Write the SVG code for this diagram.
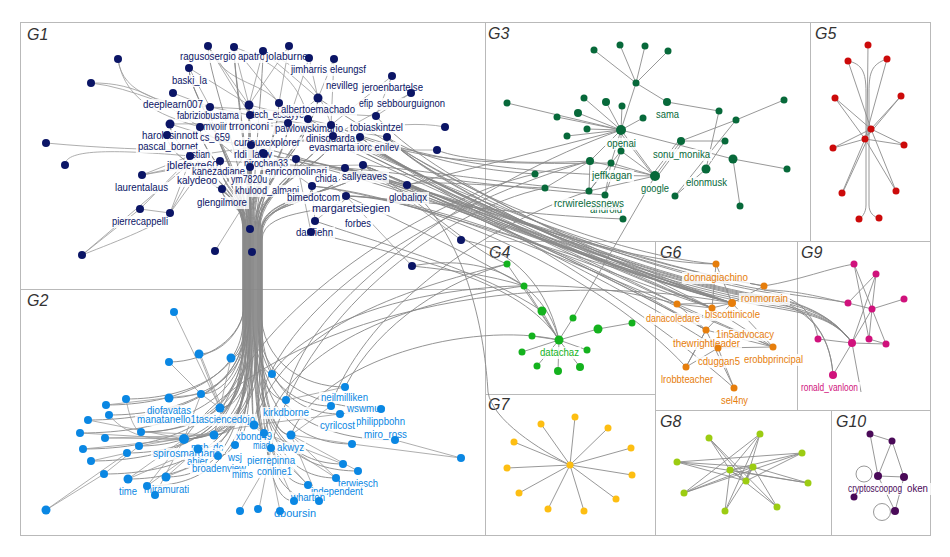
<svg xmlns="http://www.w3.org/2000/svg" width="950" height="557" viewBox="0 0 950 557">
<style>
.pn{fill:none;stroke:#b9b9b9;stroke-width:1}
.tt{font-family:"Liberation Sans",Arial,sans-serif;font-style:italic;font-size:16px;fill:#333}
.e{fill:none;stroke:#8c8c8c;stroke-width:.9}
.eb{fill:none;stroke:#888;stroke-width:.9}
.el{fill:none;stroke:#999;stroke-width:.8}
.l rect{fill:#fff;fill-opacity:.82}
.l text{font-family:"Liberation Sans",Arial,sans-serif;font-size:10px}
.q1 text{fill:#0b1566}.q2 text{fill:#0a87e3}.q3 text{fill:#07693a}.q4 text{fill:#14b21e}.q6 text{fill:#e67e0c}.q9 text{fill:#d0127c}.q10 text{fill:#4a0a58}
.k1{fill:#0b1566}.k2{fill:#0a87e3}.k3{fill:#07693a}.k4{fill:#14b21e}.k5{fill:#cc0a0a}.k6{fill:#e67e0c}.k7{fill:#fdbe12}.k8{fill:#9ccc12}.k9{fill:#d0127c}.k10{fill:#4a0a58}
</style>
<rect width="950" height="557" fill="#fff"/>
<g id="panels">
<rect class="pn" x="20.5" y="22.5" width="465" height="267"/>
<rect class="pn" x="485.5" y="22.5" width="325" height="219"/>
<rect class="pn" x="810.5" y="22.5" width="120" height="219"/>
<rect class="pn" x="20.5" y="289.5" width="465" height="246"/>
<rect class="pn" x="485.5" y="241.5" width="170" height="153"/>
<rect class="pn" x="655.5" y="241.5" width="142" height="169"/>
<rect class="pn" x="797.5" y="241.5" width="133" height="169"/>
<rect class="pn" x="485.5" y="394.5" width="170" height="141"/>
<rect class="pn" x="655.5" y="410.5" width="176" height="125"/>
<rect class="pn" x="831.5" y="410.5" width="99" height="125"/>
<text class="tt" x="27" y="40">G1</text>
<text class="tt" x="488" y="39">G3</text>
<text class="tt" x="815" y="39">G5</text>
<text class="tt" x="27" y="306">G2</text>
<text class="tt" x="489" y="258">G4</text>
<text class="tt" x="660" y="258">G6</text>
<text class="tt" x="801" y="258">G9</text>
<text class="tt" x="488" y="410">G7</text>
<text class="tt" x="660" y="427">G8</text>
<text class="tt" x="836" y="427">G10</text>
</g>
<g id="connectors">
<g id="e-g1-local" class="el">
<path d="M118,59 C122,95 165,105 210,107"/><path d="M118,59 C125,105 170,118 200,127"/><path d="M91,83 C140,82 165,105 200,127"/><path d="M91,83 C135,88 170,110 210,115"/>
<path d="M46,143 C100,148 150,150 200,150"/><path d="M65,165 C65,148 120,150 190,156"/><path d="M142,175 L190,156"/><path d="M142,175 L200,165"/><path d="M142,175 L210,160"/>
<path d="M140,209 L170,213"/><path d="M140,209 L188,160"/><path d="M170,213 L190,160"/><path d="M170,213 L198,162"/><path d="M170,213 L205,165"/>
<path d="M82,255 L140,209"/><path d="M82,255 C120,240 160,225 170,213"/><path d="M82,255 L188,165"/><path d="M215,251 L247,200"/>
<path d="M208,46 L249,105"/><path d="M208,46 L250,115"/><path d="M234,47 L249,105"/><path d="M234,47 L279,103"/><path d="M263,51 L249,105"/><path d="M263,51 L318,98"/>
<path d="M289,46 L279,103"/><path d="M289,46 L249,105"/><path d="M309,58 L318,98"/><path d="M309,58 L288,123"/><path d="M334,59 L318,98"/><path d="M334,59 L331,125"/>
<path d="M189,68 L210,107"/><path d="M189,68 L249,105"/><path d="M173,93 L210,107"/><path d="M208,46 C225,85 260,80 279,103"/><path d="M263,51 C300,65 320,90 331,125"/><path d="M234,47 C270,60 300,80 308,119"/>
<path d="M392,76 L376,116"/><path d="M392,76 L331,125"/><path d="M411,93 L376,116"/><path d="M411,93 L333,136"/><path d="M445,127 C420,122 390,125 360,130"/><path d="M437,150 L390,150"/>
<path d="M200,127 L331,125"/><path d="M170,124 L288,123"/><path d="M210,107 L376,116"/><path d="M250,115 L387,137"/><path d="M251,145 L360,137"/><path d="M220,161 L345,168"/>
<path d="M190,156 L333,136"/><path d="M250,167 L363,165"/><path d="M264,154 L407,185"/><path d="M296,159 L346,196"/><path d="M252,144 L312,186"/><path d="M200,127 L250,167"/>
<path d="M167,135 L251,145"/><path d="M170,124 L263,153"/><path d="M222,189 L251,145"/><path d="M412,266 L346,196"/><path d="M461,240 L363,165"/><path d="M315,221 L312,186"/>
<path d="M311,232 L296,159"/><path d="M315,221 L346,196"/><path d="M249,105 L331,125"/><path d="M279,103 L333,136"/><path d="M318,98 L288,123"/><path d="M210,107 L288,123"/>
</g>
<g id="e-g1-g2" class="eb">
<path d="M210,107 C210,137 244,180 244,230 L244,320 C244,414 214,439 184,439"/>
<path d="M249,105 C249,135 248,180 248,230 L248,320 C248,383 234,408 220,408"/>
<path d="M250,115 C250,145 252,180 252,230 L252,320 C252,400 253,425 254,425"/>
<path d="M279,103 C279,133 256,180 256,230 L256,320 C256,408 260,433 264,433"/>
<path d="M288,123 C288,153 260,180 260,230 L260,320 C260,410 276,435 291,435"/>
<path d="M251,145 C251,175 246,180 246,230 L246,325 C246,407 194,432 141,432"/>
<path d="M264,154 C264,184 250,190 250,230 L250,330 C250,410 232,435 214,435"/>
<path d="M220,161 C220,191 243,190 243,230 L243,330 C243,395 166,420 88,420"/>
<path d="M190,156 C190,186 245,185 245,230 L245,335 C245,408 162,433 80,433"/>
<path d="M250,167 C250,197 249,200 249,230 L249,330 C249,424 224,449 198,449"/>
<path d="M222,189 C222,205 247,205 247,235 L247,330 C247,421 193,446 139,446"/>
<path d="M296,159 C296,189 258,190 258,230 L258,320 C258,381 295,406 331,406"/>
<path d="M312,186 C312,210 261,200 261,235 L261,315 C261,389 300,414 340,414"/>
<path d="M200,127 C200,157 244,180 244,230 L244,340 C244,428 186,453 127,453"/>
<path d="M170,124 C170,154 243,180 243,230 L243,320 C243,380 175,405 106,405"/>
<path d="M331,125 C331,155 259,180 259,230 L259,330 C259,419 306,444 352,444"/>
<path d="M318,98 C318,128 257,180 257,230 L257,340 C257,439 300,464 343,464"/>
<path d="M263,153 C263,183 251,190 251,230 L251,340 C251,420 243,445 235,445"/>
<path d="M308,119 C308,149 255,180 255,230 L255,345 C255,446 307,471 358,471"/>
<path d="M333,136 C333,166 260,180 260,230 L260,350 C260,453 298,478 336,478"/>
<path d="M345,168 C345,198 262,195 262,235 L262,350 C262,460 285,485 308,485"/>
<path d="M252,144 C252,174 250,190 250,230 L250,340 C250,431 234,456 218,456"/>
<path d="M189,68 C189,98 246,170 246,230 L246,320 C246,390 178,415 109,415"/>
<path d="M208,46 C208,76 247,170 247,230 L247,315 C247,374 187,399 126,399"/>
<path d="M234,47 C234,77 249,170 249,230 L249,320 C249,373 209,398 169,398"/>
<path d="M263,51 C263,81 253,170 253,230 L253,320 C253,375 270,400 286,400"/>
<path d="M167,135 C167,165 243,180 243,230 L243,340 C243,424 163,449 83,449"/>
<path d="M363,165 C363,195 262,190 262,230 L262,360 C262,476 278,501 294,501"/>
<path d="M210,107 C210,137 245,180 245,230 L245,345 C245,436 168,461 91,461"/>
<path d="M249,105 C249,135 250,180 250,230 L250,350 C250,449 177,474 104,474"/>
<path d="M279,103 C279,133 254,180 254,230 L254,340 C254,423 263,448 271,448"/>
<path d="M288,123 C288,153 257,180 257,230 L257,355 C257,476 288,501 319,501"/>
<path d="M251,145 C251,175 248,190 248,230 L248,345 C248,454 188,479 128,479"/>
<path d="M264,154 C264,184 252,190 252,230 L252,350 C252,461 200,486 147,486"/>
<path d="M220,161 C220,191 246,190 246,230 L246,345 C246,452 206,477 166,477"/>
<path d="M190,156 C190,186 244,185 244,230 L244,305 C244,329 222,354 199,354"/>
<path d="M250,167 C250,197 251,200 251,230 L251,305 C251,333 241,358 231,358"/>
<path d="M222,189 C222,205 253,205 253,235 L253,320 C253,349 263,374 272,374"/>
<path d="M296,159 C296,189 259,190 259,230 L259,325 C259,384 320,409 381,409"/>
<path d="M312,186 C312,210 261,200 261,235 L261,310 C261,362 303,387 345,387"/>
<path d="M200,127 C200,157 245,180 245,230 L245,320 C245,369 223,394 201,394"/>
<path d="M170,124 C170,154 244,180 244,230 L244,305 C244,337 207,362 169,362"/>
<path d="M331,125 C331,155 258,180 258,230 L258,330 C258,415 327,440 395,440"/>
<path d="M318,98 C318,128 255,180 255,230 L255,335 C255,408 260,433 264,433"/>
<path d="M308,119 C308,149 254,180 254,230 L254,335 C254,414 219,439 184,439"/>
<path d="M263,153 C263,183 249,190 249,230 L249,340 C249,414 217,439 184,439"/>
<path d="M252,144 C252,174 247,190 247,230 L247,330 C247,383 234,408 220,408"/>
<path d="M189,68 C189,98 248,170 248,230 L248,335 C248,410 231,435 214,435"/>
<path d="M234,47 C234,77 251,170 251,230 L251,330 C251,400 253,425 254,425"/>
<path d="M346,196 C346,215 262,205 262,240 L262,330 C262,410 277,435 291,435"/>
<path d="M363,165 C363,195 261,190 261,230 L261,340 C261,414 223,439 184,439"/>
<path d="M345,168 C345,198 260,195 260,235 L260,340 C260,400 257,425 254,425"/>
<path d="M296,159 C296,189 256,190 256,230 L256,340 C256,410 235,435 214,435"/>
<path d="M333,136 C333,166 258,180 258,230 L258,340 C258,414 221,439 184,439"/>
<path d="M250,115 C250,145 250,180 250,230 L250,335 C250,407 196,432 141,432"/>
<path d="M279,103 C279,133 253,180 253,230 L253,325 C253,383 237,408 220,408"/>
</g>
<g id="e-g1-right" class="eb">
<path d="M331,125 C430,185 600,262 732,303"/><path d="M333,136 C430,188 600,265 712,308"/><path d="M360,137 C430,191 600,268 677,304"/>
<path d="M387,137 C430,177 600,254 716,264"/><path d="M345,168 C430,193 600,270 706,330"/><path d="M363,165 C430,195 600,272 718,348"/>
<path d="M407,185 C430,189 600,266 732,303"/><path d="M346,196 C430,197 600,274 773,347"/><path d="M296,159 C430,181 600,258 764,286"/>
<path d="M312,186 C430,197 600,274 686,367"/><path d="M376,116 C430,179 600,256 732,303"/><path d="M318,98 C430,175 600,252 712,308"/>
<path d="M308,119 C430,183 600,260 732,303"/><path d="M288,123 C430,187 600,264 677,304"/><path d="M263,153 C430,191 600,268 732,303"/>
<path d="M251,145 C430,189 600,266 706,330"/><path d="M387,137 C430,183 600,260 712,308"/><path d="M360,137 C430,193 600,270 734,388"/>
<path d="M333,136 C430,180 600,257 764,286"/><path d="M345,168 C430,186 600,263 716,264"/>
<path d="M331,125 C430,186 600,263 712,308"/><path d="M345,168 C430,190 600,267 732,303"/><path d="M363,165 C430,192 600,269 732,303"/>
<path d="M407,185 C430,194 600,271 706,330"/><path d="M387,137 C430,185 600,262 732,303"/><path d="M346,196 C430,195 600,272 712,308"/>
<path d="M331,125 C430,190 640,276 770,297 C805,303 835,318 852,343"/>
<path d="M345,168 C430,196 640,282 770,303 C805,309 835,318 852,343"/>
<path d="M363,165 C430,194 640,280 770,301 C805,307 830,330 833,375"/>
<path d="M407,185 C430,198 640,284 770,305 C805,311 835,318 852,343"/>
<path d="M296,159 C430,184 640,270 770,291 C805,297 835,300 848,303"/>
<path d="M387,137 C430,186 640,272 770,293 C805,299 815,320 818,339"/>
<path d="M312,186 C430,200 640,286 770,307 C805,313 835,318 852,343"/>
<path d="M360,137 C430,192 640,278 770,299 C805,305 830,330 833,375"/>
<path d="M333,136 C430,191 640,277 770,298 C805,304 835,318 852,343"/>
<path d="M363,165 C430,193 640,279 770,300 C805,306 835,318 852,343"/>
<path d="M387,137 C420,160 480,170 535,174"/><path d="M407,185 C420,180 480,185 545,188"/><path d="M363,165 C420,170 480,180 589,191"/>
<path d="M345,168 C420,175 480,185 605,195"/><path d="M437,150 C460,160 520,165 590,161"/><path d="M360,137 C420,160 480,165 611,163"/>
<path d="M407,185 L621,130"/><path d="M346,196 C420,200 520,215 623,219"/><path d="M331,125 C420,160 520,175 655,176"/>
<path d="M412,266 C470,255 540,270 559,340"/><path d="M461,240 C500,245 545,275 559,340"/><path d="M363,165 C420,200 470,250 507,264"/>
<path d="M346,196 C420,230 480,260 524,286"/><path d="M315,221 C400,250 480,270 542,311"/><path d="M311,232 C420,260 520,280 559,340"/>
<path d="M412,266 C450,270 490,275 524,286"/>
<path d="M254,425 C280,330 400,290 507,264"/><path d="M264,433 C290,340 420,300 524,286"/><path d="M291,435 C320,360 470,320 559,340"/>
<path d="M214,435 C240,320 420,200 535,174"/><path d="M271,448 C300,320 440,210 545,188"/><path d="M331,406 C360,320 470,230 589,191"/>
<path d="M286,400 C300,300 480,180 621,130"/><path d="M272,374 C320,300 520,260 677,304"/><path d="M184,439 C260,330 500,260 732,303"/>
<path d="M345,387 C380,320 450,280 507,264"/><path d="M254,425 C270,300 450,200 590,161"/>
<path d="M407,185 C470,240 485,340 488,392 C492,420 540,450 570,465"/>
</g>
<g id="e-g2" class="el">
<path d="M174,312 L220,408"/><path d="M199,354 L220,408"/><path d="M201,356 L221,406"/><path d="M231,358 L220,408"/><path d="M169,362 L201,394"/><path d="M201,394 L220,408"/>
<path d="M201,394 L184,439"/><path d="M106,405 L201,394"/><path d="M126,399 C130,420 135,430 141,432"/><path d="M109,415 C130,440 160,440 184,439"/><path d="M88,420 L184,439"/>
<path d="M80,433 L184,439"/><path d="M83,449 L184,439"/><path d="M105,438 L184,439"/><path d="M105,438 L214,435"/><path d="M91,461 L127,453"/><path d="M104,474 L139,446"/>
<path d="M128,479 L184,439"/><path d="M147,486 L198,449"/><path d="M166,477 L198,449"/><path d="M166,477 L218,456"/><path d="M147,486 L184,439"/><path d="M155,495 L184,439"/>
<path d="M128,479 L198,449"/><path d="M240,511 L264,470"/><path d="M259,509 L271,448"/><path d="M280,511 L264,433"/><path d="M46,510 L104,474"/><path d="M46,510 L127,453"/>
<path d="M308,485 L271,448"/><path d="M294,501 L264,433"/><path d="M319,501 L291,435"/><path d="M336,478 L291,435"/><path d="M358,471 L291,435"/><path d="M343,464 L264,433"/>
<path d="M352,444 L291,435"/><path d="M461,458 L395,440"/><path d="M461,458 L352,444"/><path d="M381,409 L340,414"/><path d="M345,387 L286,400"/><path d="M331,406 L291,435"/>
<path d="M340,414 L254,425"/><path d="M308,485 L254,425"/><path d="M336,478 L254,425"/><path d="M141,432 L214,435"/><path d="M139,446 L254,425"/>
</g>
<g id="e-g3" class="e">
<path d="M636,83 L594,50"/><path d="M636,83 L620,45"/><path d="M636,83 L645,46"/><path d="M636,83 L668,51"/><path d="M636,83 L667,102"/><path d="M636,83 L621,130"/>
<path d="M667,102 L719,111"/><path d="M719,111 L706,169"/><path d="M621,130 L507,103"/><path d="M621,130 L557,117"/><path d="M621,130 L584,98"/><path d="M621,130 L606,102"/>
<path d="M621,130 L622,106"/><path d="M621,130 L578,113"/><path d="M621,130 L643,118"/><path d="M621,130 L587,129"/><path d="M621,130 L567,136"/><path d="M621,130 L621,151"/>
<path d="M621,130 L590,161"/><path d="M621,130 L611,163"/><path d="M621,130 L733,159"/><path d="M733,159 L787,169"/><path d="M681,141 L736,120"/><path d="M681,141 L725,141"/>
<path d="M736,120 L784,100"/><path d="M736,120 L675,196"/><path d="M725,141 L706,169"/><path d="M733,159 L740,206"/><path d="M706,169 L675,196"/>
<path d="M655,176 L621,151"/><path d="M655,176 L621,130"/><path d="M653,175 L619,131"/><path d="M655,176 L681,141"/><path d="M653,174 L679,140"/><path d="M657,177 L683,142"/>
<path d="M655,176 L590,161"/><path d="M655,176 L611,163"/><path d="M590,161 L535,174"/><path d="M590,161 L545,188"/><path d="M590,161 L589,191"/><path d="M611,163 L605,195"/>
<path d="M621,151 L589,191"/><path d="M621,151 L605,195"/><path d="M611,163 L589,191"/><path d="M623,219 L605,195"/><path d="M589,191 L655,176"/><path d="M655,176 L573,318"/>
</g>
<g id="e-g4" class="e">
<path d="M559,340 L507,264"/><path d="M559,340 L524,286"/><path d="M559,340 L542,311"/><path d="M559,340 L573,318"/><path d="M559,340 L598,329"/><path d="M559,340 L532,336"/>
<path d="M559,340 L522,352"/><path d="M559,340 L587,350"/><path d="M559,340 L537,366"/><path d="M559,340 L558,371"/><path d="M559,340 L580,367"/><path d="M598,329 L632,323"/>
</g>
<g id="e-g5" class="e">
<path d="M848,61 C862,64 866,72 866,92 L866,205 C866,213 862,217 859,219"/><path d="M887,59 C872,64 869,72 869,92 L869,205 C869,213 874,217 879,218"/>
<path d="M868,45 L867,135"/><path d="M848,61 L871,129"/><path d="M887,59 L865,139"/><path d="M835,98 L871,129"/><path d="M835,98 L865,139"/><path d="M901,96 L871,129"/>
<path d="M901,96 L865,139"/><path d="M833,148 L871,129"/><path d="M833,148 L865,139"/><path d="M904,145 L871,129"/><path d="M904,145 L865,139"/><path d="M842,193 L865,139"/>
<path d="M843,192 L867,140"/><path d="M896,191 L871,129"/><path d="M896,191 L865,139"/><path d="M871,129 L865,139"/>
</g>
<g id="e-g6" class="e">
<path d="M716,264 L712,308"/><path d="M716,264 L732,303"/><path d="M764,286 L732,303"/><path d="M677,304 L712,308"/><path d="M677,304 L732,303"/><path d="M677,304 L706,330"/>
<path d="M712,308 L732,303"/><path d="M706,330 L732,303"/><path d="M706,330 L686,367"/><path d="M706,330 L773,347"/><path d="M718,348 L773,347"/><path d="M718,348 L734,388"/>
<path d="M686,367 L718,348"/><path d="M734,388 L706,330"/><path d="M677,304 L773,347"/><path d="M712,308 L773,347"/><path d="M732,303 L773,347"/><path d="M686,367 L706,330"/>
</g>
<g id="e-g9" class="e">
<path d="M764,286 C800,280 830,268 854,264"/><path d="M764,290 C800,290 830,300 848,303"/>
<path d="M854,264 L872,309"/><path d="M854,264 L869,339"/><path d="M876,274 L848,303"/><path d="M876,274 L872,309"/><path d="M876,274 L852,343"/><path d="M848,303 L872,309"/>
<path d="M872,309 L904,299"/><path d="M872,309 L852,343"/><path d="M872,309 L869,339"/><path d="M872,309 L886,344"/><path d="M818,339 L852,343"/><path d="M852,343 L886,344"/>
<path d="M852,343 L833,375"/><path d="M852,343 L861,392"/><path d="M869,339 L886,344"/>
</g>
<g id="e-g7" class="e">
<path d="M570,465 L575,417"/><path d="M570,465 L541,424"/><path d="M570,465 L608,428"/><path d="M570,465 L514,442"/><path d="M570,465 L631,448"/><path d="M570,465 L507,468"/>
<path d="M570,465 L632,475"/><path d="M570,465 L519,493"/><path d="M570,465 L616,499"/><path d="M570,465 L548,509"/><path d="M570,465 L584,511"/>
</g>
<g id="e-g8" class="e">
<path d="M709,438 L730,470"/><path d="M709,438 L746,481"/><path d="M709,438 L777,507"/><path d="M760,434 L730,470"/><path d="M760,434 L746,481"/><path d="M760,434 L725,511"/>
<path d="M760,434 L684,493"/><path d="M677,462 L753,467"/><path d="M677,462 L746,481"/><path d="M677,462 L808,483"/><path d="M802,453 L730,470"/><path d="M802,453 L684,493"/>
<path d="M802,453 L746,481"/><path d="M802,453 L677,462"/><path d="M808,483 L730,470"/><path d="M808,483 L753,467"/><path d="M684,493 L753,467"/><path d="M684,493 L730,470"/>
<path d="M777,507 L730,470"/><path d="M777,507 L753,467"/><path d="M725,511 L730,470"/><path d="M725,511 L753,467"/><path d="M730,470 L753,467"/><path d="M730,470 L746,481"/><path d="M753,467 L746,481"/>
</g>
<g id="e-g10" class="e">
<path d="M870,434 L892,441"/><path d="M870,434 L878,476"/><path d="M892,441 L878,476"/><path d="M892,441 L904,477"/><path d="M878,476 L904,477"/><path d="M878,476 L895,511"/><path d="M904,477 L895,511"/>
<circle cx="864" cy="474" r="8"/><circle cx="882" cy="512" r="8.5"/>
</g>
</g>
<g id="labels">
<g class="l q1">
<g id="lbl-ragusosergio"><rect x="178" y="51" width="60" height="12"/><text x="180" y="60" textLength="56" lengthAdjust="spacingAndGlyphs">ragusosergio</text></g>
<g id="lbl-apatro"><rect x="236" y="51" width="31" height="12"/><text x="238" y="60" textLength="27" lengthAdjust="spacingAndGlyphs">apatro</text></g>
<g id="lbl-jolaburne"><rect x="264" y="51" width="46" height="12"/><text x="266" y="60" textLength="42" lengthAdjust="spacingAndGlyphs">jolaburne</text></g>
<g id="lbl-jimharris"><rect x="289" y="64" width="40" height="12"/><text x="291" y="73" textLength="36" lengthAdjust="spacingAndGlyphs">jimharris</text></g>
<g id="lbl-eleungsf"><rect x="328" y="64" width="40" height="12"/><text x="330" y="73" textLength="36" lengthAdjust="spacingAndGlyphs">eleungsf</text></g>
<g id="lbl-baski_la"><rect x="170" y="75" width="39" height="12"/><text x="172" y="84" textLength="35" lengthAdjust="spacingAndGlyphs">baski_la</text></g>
<g id="lbl-nevilleg"><rect x="324" y="80" width="36" height="12"/><text x="326" y="89" textLength="32" lengthAdjust="spacingAndGlyphs">nevilleg</text></g>
<g id="lbl-jeroenbartelse"><rect x="360" y="82" width="65" height="12"/><text x="362" y="91" textLength="61" lengthAdjust="spacingAndGlyphs">jeroenbartelse</text></g>
<g id="lbl-deeplearn007"><rect x="141" y="99" width="64" height="12"/><text x="143" y="108" textLength="60" lengthAdjust="spacingAndGlyphs">deeplearn007</text></g>
<g id="lbl-efip"><rect x="357" y="98" width="18" height="12"/><text x="359" y="107" textLength="14" lengthAdjust="spacingAndGlyphs">efip</text></g>
<g id="lbl-sebbourguignon"><rect x="375" y="98" width="72" height="12"/><text x="377" y="107" textLength="68" lengthAdjust="spacingAndGlyphs">sebbourguignon</text></g>
<g id="lbl-tech_essayye"><rect x="250" y="109" width="56" height="12"/><text x="252" y="118" textLength="52" lengthAdjust="spacingAndGlyphs">tech_essayye</text></g>
<g id="lbl-albertoemachado"><rect x="279" y="104" width="78" height="12"/><text x="281" y="113" textLength="74" lengthAdjust="spacingAndGlyphs">albertoemachado</text></g>
<g id="lbl-fabriziobustama"><rect x="175" y="110" width="66" height="12"/><text x="177" y="119" textLength="62" lengthAdjust="spacingAndGlyphs">fabriziobustama</text></g>
<g id="lbl-mvoiir"><rect x="201" y="121" width="28" height="12"/><text x="203" y="130" textLength="24" lengthAdjust="spacingAndGlyphs">mvoiir</text></g>
<g id="lbl-trronconi"><rect x="227" y="121" width="44" height="12"/><text x="229" y="130" textLength="40" lengthAdjust="spacingAndGlyphs">trronconi</text></g>
<g id="lbl-pawlowskimario"><rect x="273" y="123" width="72" height="12"/><text x="275" y="132" textLength="68" lengthAdjust="spacingAndGlyphs">pawlowskimario</text></g>
<g id="lbl-tobiaskintzel"><rect x="348" y="122" width="57" height="12"/><text x="350" y="131" textLength="53" lengthAdjust="spacingAndGlyphs">tobiaskintzel</text></g>
<g id="lbl-haroldsinnott"><rect x="140" y="130" width="60" height="12"/><text x="142" y="139" textLength="56" lengthAdjust="spacingAndGlyphs">haroldsinnott</text></g>
<g id="lbl-cs_659"><rect x="198" y="132" width="34" height="12"/><text x="200" y="141" textLength="30" lengthAdjust="spacingAndGlyphs">cs_659</text></g>
<g id="lbl-dinisguarda"><rect x="304" y="133" width="53" height="12"/><text x="306" y="142" textLength="49" lengthAdjust="spacingAndGlyphs">dinisguarda</text></g>
<g id="lbl-curieuxexplorer"><rect x="232" y="137" width="70" height="12"/><text x="234" y="146" textLength="66" lengthAdjust="spacingAndGlyphs">curieuxexplorer</text></g>
<g id="lbl-pascal_bornet"><rect x="136" y="141" width="64" height="12"/><text x="138" y="150" textLength="60" lengthAdjust="spacingAndGlyphs">pascal_bornet</text></g>
<g id="lbl-evasmartai"><rect x="307" y="142" width="52" height="12"/><text x="309" y="151" textLength="48" lengthAdjust="spacingAndGlyphs">evasmartai</text></g>
<g id="lbl-iorcenilev"><rect x="355" y="142" width="46" height="12"/><text x="357" y="151" textLength="42" lengthAdjust="spacingAndGlyphs">iorc enilev</text></g>
<g id="lbl-ystian"><rect x="185" y="149" width="27" height="12"/><text x="187" y="158" textLength="23" lengthAdjust="spacingAndGlyphs">ystian</text></g>
<g id="lbl-rldi_lanly"><rect x="232" y="149" width="42" height="12"/><text x="234" y="158" textLength="38" lengthAdjust="spacingAndGlyphs">rldi_lanly</text></g>
<g id="lbl-jblefevre60"><rect x="165" y="160" width="55" height="12"/><text x="167" y="169" textLength="51" lengthAdjust="spacingAndGlyphs">jblefevre60</text></g>
<g id="lbl-nirochan33"><rect x="242" y="158" width="48" height="12"/><text x="244" y="167" textLength="44" lengthAdjust="spacingAndGlyphs">nirochan33</text></g>
<g id="lbl-kanezadiane"><rect x="190" y="166" width="57" height="12"/><text x="192" y="175" textLength="53" lengthAdjust="spacingAndGlyphs">kanezadiane</text></g>
<g id="lbl-enricomolinari"><rect x="263" y="166" width="66" height="12"/><text x="265" y="175" textLength="62" lengthAdjust="spacingAndGlyphs">enricomolinari</text></g>
<g id="lbl-sallyeaves"><rect x="340" y="171" width="49" height="12"/><text x="342" y="180" textLength="45" lengthAdjust="spacingAndGlyphs">sallyeaves</text></g>
<g id="lbl-chida"><rect x="313" y="173" width="26" height="12"/><text x="315" y="182" textLength="22" lengthAdjust="spacingAndGlyphs">chida</text></g>
<g id="lbl-ym7820u"><rect x="229" y="174" width="40" height="12"/><text x="231" y="183" textLength="36" lengthAdjust="spacingAndGlyphs">ym7820u</text></g>
<g id="lbl-kalydeoo"><rect x="175" y="175" width="44" height="12"/><text x="177" y="184" textLength="40" lengthAdjust="spacingAndGlyphs">kalydeoo</text></g>
<g id="lbl-laurentalaus"><rect x="113" y="182" width="57" height="12"/><text x="115" y="191" textLength="53" lengthAdjust="spacingAndGlyphs">laurentalaus</text></g>
<g id="lbl-khulood_almani"><rect x="233" y="185" width="68" height="12"/><text x="235" y="194" textLength="64" lengthAdjust="spacingAndGlyphs">khulood_almani</text></g>
<g id="lbl-bimedotcom"><rect x="285" y="192" width="57" height="12"/><text x="287" y="201" textLength="53" lengthAdjust="spacingAndGlyphs">bimedotcom</text></g>
<g id="lbl-globaliqx"><rect x="387" y="192" width="42" height="12"/><text x="389" y="201" textLength="38" lengthAdjust="spacingAndGlyphs">globaliqx</text></g>
<g id="lbl-glengilmore"><rect x="195" y="197" width="54" height="12"/><text x="197" y="206" textLength="50" lengthAdjust="spacingAndGlyphs">glengilmore</text></g>
<g id="lbl-margaretsiegien"><rect x="310" y="203" width="82" height="12"/><text x="312" y="212" textLength="78" lengthAdjust="spacingAndGlyphs">margaretsiegien</text></g>
<g id="lbl-pierrecappelli"><rect x="110" y="216" width="60" height="12"/><text x="112" y="225" textLength="56" lengthAdjust="spacingAndGlyphs">pierrecappelli</text></g>
<g id="lbl-forbes"><rect x="343" y="218" width="30" height="12"/><text x="345" y="227" textLength="26" lengthAdjust="spacingAndGlyphs">forbes</text></g>
<g id="lbl-danfiehn"><rect x="294" y="227" width="41" height="12"/><text x="296" y="236" textLength="37" lengthAdjust="spacingAndGlyphs">danfiehn</text></g>
</g>
<g class="l q2">
<g id="lbl-diofavatas"><rect x="145" y="405" width="48" height="12"/><text x="147" y="414" textLength="44" lengthAdjust="spacingAndGlyphs">diofavatas</text></g>
<g id="lbl-tasciencedojo"><rect x="194" y="414" width="63" height="12"/><text x="196" y="423" textLength="59" lengthAdjust="spacingAndGlyphs">tasciencedojo</text></g>
<g id="lbl-manatanello1"><rect x="135" y="414" width="61" height="12"/><text x="137" y="423" textLength="59" lengthAdjust="spacingAndGlyphs">manatanello1</text></g>
<g id="lbl-kirkdborne"><rect x="261" y="407" width="50" height="12"/><text x="263" y="416" textLength="46" lengthAdjust="spacingAndGlyphs">kirkdborne</text></g>
<g id="lbl-neilmilliken"><rect x="319" y="392" width="51" height="12"/><text x="321" y="401" textLength="47" lengthAdjust="spacingAndGlyphs">neilmilliken</text></g>
<g id="lbl-wswmue"><rect x="345" y="403" width="42" height="12"/><text x="347" y="412" textLength="38" lengthAdjust="spacingAndGlyphs">wswmue</text></g>
<g id="lbl-philippbohn"><rect x="354" y="416" width="53" height="12"/><text x="356" y="425" textLength="49" lengthAdjust="spacingAndGlyphs">philippbohn</text></g>
<g id="lbl-cyrilcost"><rect x="318" y="420" width="39" height="12"/><text x="320" y="429" textLength="35" lengthAdjust="spacingAndGlyphs">cyrilcost</text></g>
<g id="lbl-miro_ross"><rect x="362" y="429" width="47" height="12"/><text x="364" y="438" textLength="43" lengthAdjust="spacingAndGlyphs">miro_ross</text></g>
<g id="lbl-xbond49"><rect x="234" y="431" width="40" height="12"/><text x="236" y="440" textLength="36" lengthAdjust="spacingAndGlyphs">xbond49</text></g>
<g id="lbl-miad"><rect x="251" y="440" width="21" height="12"/><text x="253" y="449" textLength="17" lengthAdjust="spacingAndGlyphs">miad</text></g>
<g id="lbl-akwyz"><rect x="275" y="442" width="31" height="12"/><text x="277" y="451" textLength="27" lengthAdjust="spacingAndGlyphs">akwyz</text></g>
<g id="lbl-msb_dc"><rect x="189" y="442" width="36" height="12"/><text x="191" y="451" textLength="32" lengthAdjust="spacingAndGlyphs">msb_dc</text></g>
<g id="lbl-spirosmargaris"><rect x="151" y="448" width="71" height="12"/><text x="153" y="457" textLength="67" lengthAdjust="spacingAndGlyphs">spirosmargaris</text></g>
<g id="lbl-wsj"><rect x="226" y="452" width="18" height="12"/><text x="228" y="461" textLength="14" lengthAdjust="spacingAndGlyphs">wsj</text></g>
<g id="lbl-pierrepinna"><rect x="245" y="455" width="52" height="12"/><text x="247" y="464" textLength="48" lengthAdjust="spacingAndGlyphs">pierrepinna</text></g>
<g id="lbl-ahier"><rect x="185" y="456" width="25" height="12"/><text x="187" y="465" textLength="21" lengthAdjust="spacingAndGlyphs">ahier</text></g>
<g id="lbl-broadenview"><rect x="190" y="463" width="58" height="12"/><text x="192" y="472" textLength="54" lengthAdjust="spacingAndGlyphs">broadenview</text></g>
<g id="lbl-conline1"><rect x="255" y="466" width="39" height="12"/><text x="257" y="475" textLength="35" lengthAdjust="spacingAndGlyphs">conline1</text></g>
<g id="lbl-mims"><rect x="230" y="469" width="25" height="12"/><text x="232" y="478" textLength="21" lengthAdjust="spacingAndGlyphs">mims</text></g>
<g id="lbl-terwiesch"><rect x="336" y="478" width="44" height="12"/><text x="338" y="487" textLength="40" lengthAdjust="spacingAndGlyphs">terwiesch</text></g>
<g id="lbl-time"><rect x="117" y="486" width="22" height="12"/><text x="119" y="495" textLength="18" lengthAdjust="spacingAndGlyphs">time</text></g>
<g id="lbl-miramurati"><rect x="142" y="484" width="49" height="12"/><text x="144" y="493" textLength="45" lengthAdjust="spacingAndGlyphs">miramurati</text></g>
<g id="lbl-independent"><rect x="309" y="486" width="56" height="12"/><text x="311" y="495" textLength="52" lengthAdjust="spacingAndGlyphs">independent</text></g>
<g id="lbl-wharton"><rect x="289" y="492" width="38" height="12"/><text x="291" y="501" textLength="34" lengthAdjust="spacingAndGlyphs">wharton</text></g>
<g id="lbl-dboursin"><rect x="272" y="508" width="46" height="12"/><text x="274" y="517" textLength="42" lengthAdjust="spacingAndGlyphs">dboursin</text></g>
</g>
<g class="l q3">
<g id="lbl-sama"><rect x="654" y="109" width="27" height="12"/><text x="656" y="118" textLength="23" lengthAdjust="spacingAndGlyphs">sama</text></g>
<g id="lbl-openai"><rect x="605" y="138" width="33" height="12"/><text x="607" y="147" textLength="29" lengthAdjust="spacingAndGlyphs">openai</text></g>
<g id="lbl-sonu_monika"><rect x="651" y="149" width="61" height="12"/><text x="653" y="158" textLength="57" lengthAdjust="spacingAndGlyphs">sonu_monika</text></g>
<g id="lbl-jeffkagan"><rect x="590" y="170" width="44" height="12"/><text x="592" y="179" textLength="40" lengthAdjust="spacingAndGlyphs">jeffkagan</text></g>
<g id="lbl-elonmusk"><rect x="684" y="177" width="45" height="12"/><text x="686" y="186" textLength="41" lengthAdjust="spacingAndGlyphs">elonmusk</text></g>
<g id="lbl-google"><rect x="639" y="183" width="32" height="12"/><text x="641" y="192" textLength="28" lengthAdjust="spacingAndGlyphs">google</text></g>
<g id="lbl-android"><rect x="588" y="204" width="36" height="12"/><text x="590" y="213" textLength="32" lengthAdjust="spacingAndGlyphs">android</text></g>
<g id="lbl-rcrwirelessnews"><rect x="552" y="198" width="74" height="12"/><text x="554" y="207" textLength="70" lengthAdjust="spacingAndGlyphs">rcrwirelessnews</text></g>
</g>
<g class="l q4">
<g id="lbl-datachaz"><rect x="538" y="347" width="43" height="12"/><text x="540" y="356" textLength="39" lengthAdjust="spacingAndGlyphs">datachaz</text></g>
</g>
<g class="l q6">
<g id="lbl-donnagiachino"><rect x="682" y="272" width="68" height="12"/><text x="684" y="281" textLength="64" lengthAdjust="spacingAndGlyphs">donnagiachino</text></g>
<g id="lbl-ronmorrain"><rect x="739" y="293" width="51" height="12"/><text x="741" y="302" textLength="47" lengthAdjust="spacingAndGlyphs">ronmorrain</text></g>
<g id="lbl-danacoledare"><rect x="644" y="313" width="58" height="12"/><text x="646" y="322" textLength="54" lengthAdjust="spacingAndGlyphs">danacoledare</text></g>
<g id="lbl-biscottinicole"><rect x="703" y="309" width="59" height="12"/><text x="705" y="318" textLength="55" lengthAdjust="spacingAndGlyphs">biscottinicole</text></g>
<g id="lbl-1in5advocacy"><rect x="714" y="329" width="62" height="12"/><text x="716" y="338" textLength="58" lengthAdjust="spacingAndGlyphs">1in5advocacy</text></g>
<g id="lbl-thewrightleader"><rect x="671" y="338" width="71" height="12"/><text x="673" y="347" textLength="67" lengthAdjust="spacingAndGlyphs">thewrightleader</text></g>
<g id="lbl-cduggan5"><rect x="696" y="356" width="46" height="12"/><text x="698" y="365" textLength="42" lengthAdjust="spacingAndGlyphs">cduggan5</text></g>
<g id="lbl-erobbprincipal"><rect x="742" y="354" width="63" height="12"/><text x="744" y="363" textLength="59" lengthAdjust="spacingAndGlyphs">erobbprincipal</text></g>
<g id="lbl-lrobbteacher"><rect x="659" y="374" width="56" height="12"/><text x="661" y="383" textLength="52" lengthAdjust="spacingAndGlyphs">lrobbteacher</text></g>
<g id="lbl-sel4ny"><rect x="719" y="395" width="31" height="12"/><text x="721" y="404" textLength="27" lengthAdjust="spacingAndGlyphs">sel4ny</text></g>
</g>
<g class="l q9">
<g id="lbl-ronald_vanloon"><rect x="799" y="382" width="61" height="12"/><text x="801" y="391" textLength="57" lengthAdjust="spacingAndGlyphs">ronald_vanloon</text></g>
</g>
<g class="l q10">
<g id="lbl-oken"><rect x="905" y="483" width="26" height="12"/><text x="907" y="492" textLength="21" lengthAdjust="spacingAndGlyphs">oken</text></g>
<g id="lbl-cryptoscoopog"><rect x="846" y="483" width="58" height="12"/><text x="848" y="492" textLength="54" lengthAdjust="spacingAndGlyphs">cryptoscoopog</text></g>
</g>
</g>
<g id="nodes">
<g class="k1">
<g id="n1-01"><circle cx="208" cy="46" r="4"/></g><g id="n1-02"><circle cx="234" cy="47" r="4"/></g><g id="n1-03"><circle cx="263" cy="51" r="4"/></g>
<g id="n1-04"><circle cx="289" cy="46" r="4"/></g><g id="n1-05"><circle cx="309" cy="58" r="4"/></g><g id="n1-06"><circle cx="334" cy="59" r="4"/></g>
<g id="n1-07"><circle cx="118" cy="59" r="4"/></g><g id="n1-08"><circle cx="91" cy="83" r="4"/></g><g id="n1-09"><circle cx="189" cy="68" r="4"/></g>
<g id="n1-10"><circle cx="173" cy="93" r="4"/></g><g id="n1-11"><circle cx="210" cy="107" r="4"/></g><g id="n1-12"><circle cx="249" cy="105" r="4.5"/></g>
<g id="n1-13"><circle cx="279" cy="103" r="4"/></g><g id="n1-14"><circle cx="318" cy="98" r="4.5"/></g><g id="n1-15"><circle cx="392" cy="76" r="4"/></g>
<g id="n1-16"><circle cx="411" cy="93" r="4"/></g><g id="n1-17"><circle cx="250" cy="115" r="4"/></g><g id="n1-18"><circle cx="170" cy="124" r="4.5"/></g>
<g id="n1-19"><circle cx="167" cy="135" r="4"/></g><g id="n1-20"><circle cx="200" cy="127" r="4"/></g><g id="n1-21"><circle cx="288" cy="123" r="4"/></g>
<g id="n1-22"><circle cx="308" cy="119" r="4"/></g><g id="n1-23"><circle cx="331" cy="125" r="4"/></g><g id="n1-24"><circle cx="376" cy="116" r="4"/></g>
<g id="n1-25"><circle cx="445" cy="127" r="4"/></g><g id="n1-26"><circle cx="46" cy="143" r="4"/></g><g id="n1-27"><circle cx="251" cy="145" r="4"/></g>
<g id="n1-28"><circle cx="333" cy="136" r="4"/></g><g id="n1-29"><circle cx="360" cy="137" r="4"/></g><g id="n1-30"><circle cx="387" cy="137" r="4"/></g>
<g id="n1-31"><circle cx="437" cy="150" r="4"/></g><g id="n1-32"><circle cx="263" cy="153" r="4"/></g><g id="n1-33"><circle cx="296" cy="159" r="4"/></g>
<g id="n1-34"><circle cx="345" cy="168" r="4"/></g><g id="n1-35"><circle cx="363" cy="165" r="4"/></g><g id="n1-36"><circle cx="250" cy="167" r="4"/></g>
<g id="n1-37"><circle cx="220" cy="161" r="4"/></g><g id="n1-38"><circle cx="190" cy="156" r="4"/></g><g id="n1-39"><circle cx="142" cy="175" r="4"/></g>
<g id="n1-40"><circle cx="222" cy="189" r="4"/></g><g id="n1-41"><circle cx="312" cy="186" r="4"/></g><g id="n1-42"><circle cx="407" cy="185" r="4"/></g>
<g id="n1-43"><circle cx="346" cy="196" r="4"/></g><g id="n1-44"><circle cx="315" cy="221" r="4"/></g><g id="n1-45"><circle cx="311" cy="232" r="4"/></g>
<g id="n1-46"><circle cx="250" cy="229" r="4"/></g><g id="n1-47"><circle cx="252" cy="252" r="4"/></g><g id="n1-48"><circle cx="461" cy="240" r="4"/></g>
<g id="n1-49"><circle cx="412" cy="266" r="4"/></g><g id="n1-50"><circle cx="65" cy="165" r="4"/></g><g id="n1-51"><circle cx="140" cy="209" r="4"/></g>
<g id="n1-52"><circle cx="170" cy="213" r="4"/></g><g id="n1-53"><circle cx="82" cy="255" r="4"/></g><g id="n1-54"><circle cx="215" cy="251" r="4"/></g>
<g id="n1-55"><circle cx="264" cy="154" r="4"/></g>
</g>
<g class="k2">
<g id="n2-01"><circle cx="174" cy="312" r="4"/></g><g id="n2-02"><circle cx="199" cy="354" r="4.5"/></g><g id="n2-03"><circle cx="231" cy="358" r="4.5"/></g>
<g id="n2-04"><circle cx="169" cy="362" r="4"/></g><g id="n2-05"><circle cx="201" cy="394" r="4"/></g><g id="n2-06"><circle cx="126" cy="399" r="4"/></g>
<g id="n2-07"><circle cx="169" cy="398" r="4.5"/></g><g id="n2-08"><circle cx="106" cy="405" r="4"/></g><g id="n2-09"><circle cx="220" cy="408" r="4.5"/></g>
<g id="n2-10"><circle cx="109" cy="415" r="4"/></g><g id="n2-11"><circle cx="88" cy="420" r="4"/></g><g id="n2-12"><circle cx="80" cy="433" r="4"/></g>
<g id="n2-13"><circle cx="141" cy="432" r="4"/></g><g id="n2-14"><circle cx="214" cy="435" r="4.5"/></g><g id="n2-15"><circle cx="254" cy="425" r="4.5"/></g>
<g id="n2-16"><circle cx="105" cy="438" r="4"/></g><g id="n2-17"><circle cx="184" cy="439" r="5"/></g><g id="n2-18"><circle cx="139" cy="446" r="4"/></g>
<g id="n2-19"><circle cx="83" cy="449" r="4"/></g><g id="n2-20"><circle cx="198" cy="449" r="4.5"/></g><g id="n2-21"><circle cx="235" cy="445" r="4"/></g>
<g id="n2-22"><circle cx="218" cy="456" r="4"/></g><g id="n2-23"><circle cx="127" cy="453" r="4"/></g><g id="n2-24"><circle cx="91" cy="461" r="4"/></g>
<g id="n2-25"><circle cx="104" cy="474" r="4"/></g><g id="n2-26"><circle cx="128" cy="479" r="4.5"/></g><g id="n2-27"><circle cx="147" cy="486" r="4"/></g>
<g id="n2-28"><circle cx="166" cy="477" r="4.5"/></g><g id="n2-29"><circle cx="155" cy="495" r="4"/></g><g id="n2-30"><circle cx="46" cy="510" r="4.5"/></g>
<g id="n2-31"><circle cx="240" cy="511" r="4"/></g><g id="n2-32"><circle cx="258" cy="509" r="4"/></g><g id="n2-33"><circle cx="280" cy="511" r="4"/></g>
<g id="n2-34"><circle cx="272" cy="374" r="4"/></g><g id="n2-35"><circle cx="345" cy="387" r="4"/></g><g id="n2-36"><circle cx="286" cy="400" r="4"/></g>
<g id="n2-37"><circle cx="331" cy="406" r="4"/></g><g id="n2-38"><circle cx="381" cy="409" r="4"/></g><g id="n2-39"><circle cx="340" cy="414" r="4"/></g>
<g id="n2-40"><circle cx="264" cy="433" r="4"/></g><g id="n2-41"><circle cx="291" cy="435" r="4.5"/></g><g id="n2-42"><circle cx="352" cy="444" r="4"/></g>
<g id="n2-43"><circle cx="395" cy="440" r="4"/></g><g id="n2-44"><circle cx="271" cy="448" r="4"/></g><g id="n2-45"><circle cx="461" cy="458" r="4"/></g>
<g id="n2-46"><circle cx="343" cy="464" r="4"/></g><g id="n2-47"><circle cx="358" cy="471" r="4"/></g><g id="n2-48"><circle cx="336" cy="478" r="4"/></g>
<g id="n2-49"><circle cx="308" cy="485" r="4"/></g><g id="n2-50"><circle cx="294" cy="501" r="4"/></g><g id="n2-51"><circle cx="319" cy="501" r="4"/></g>
</g>
<g class="k3">
<g id="n3-01"><circle cx="594" cy="50" r="3.5"/></g><g id="n3-02"><circle cx="620" cy="45" r="3.5"/></g><g id="n3-03"><circle cx="645" cy="46" r="3.5"/></g>
<g id="n3-04"><circle cx="668" cy="51" r="3.5"/></g><g id="n3-05"><circle cx="636" cy="83" r="3.5"/></g><g id="n3-06"><circle cx="667" cy="102" r="4"/></g>
<g id="n3-07"><circle cx="719" cy="111" r="3.5"/></g><g id="n3-08"><circle cx="784" cy="100" r="3.5"/></g><g id="n3-09"><circle cx="736" cy="120" r="3.5"/></g>
<g id="n3-10"><circle cx="507" cy="103" r="3.5"/></g><g id="n3-11"><circle cx="557" cy="117" r="3.5"/></g><g id="n3-12"><circle cx="584" cy="98" r="3.5"/></g>
<g id="n3-13"><circle cx="606" cy="102" r="4"/></g><g id="n3-14"><circle cx="622" cy="106" r="3.5"/></g><g id="n3-15"><circle cx="578" cy="113" r="4"/></g>
<g id="n3-16"><circle cx="643" cy="118" r="3.5"/></g><g id="n3-17"><circle cx="587" cy="129" r="3.5"/></g><g id="n3-18"><circle cx="567" cy="136" r="3.5"/></g>
<g id="n3-19"><circle cx="621" cy="130" r="5"/></g><g id="n3-20"><circle cx="681" cy="141" r="4"/></g><g id="n3-21"><circle cx="725" cy="141" r="3.5"/></g>
<g id="n3-22"><circle cx="733" cy="159" r="4.5"/></g><g id="n3-23"><circle cx="787" cy="169" r="3.5"/></g><g id="n3-24"><circle cx="706" cy="169" r="4.5"/></g>
<g id="n3-25"><circle cx="621" cy="151" r="3.5"/></g><g id="n3-26"><circle cx="590" cy="161" r="4"/></g><g id="n3-27"><circle cx="611" cy="163" r="3.5"/></g>
<g id="n3-28"><circle cx="535" cy="174" r="3.5"/></g><g id="n3-29"><circle cx="545" cy="188" r="3.5"/></g><g id="n3-30"><circle cx="655" cy="176" r="5"/></g>
<g id="n3-31"><circle cx="589" cy="191" r="3.5"/></g><g id="n3-32"><circle cx="605" cy="195" r="3.5"/></g><g id="n3-33"><circle cx="675" cy="196" r="3.5"/></g>
<g id="n3-34"><circle cx="740" cy="206" r="3.5"/></g><g id="n3-35"><circle cx="623" cy="219" r="3.5"/></g>
</g>
<g class="k4">
<g id="n4-01"><circle cx="507" cy="264" r="3.5"/></g><g id="n4-02"><circle cx="524" cy="286" r="3.5"/></g><g id="n4-03"><circle cx="542" cy="311" r="4.5"/></g>
<g id="n4-04"><circle cx="573" cy="318" r="3.5"/></g><g id="n4-05"><circle cx="598" cy="329" r="4.5"/></g><g id="n4-06"><circle cx="632" cy="323" r="3.5"/></g>
<g id="n4-07"><circle cx="532" cy="336" r="3.5"/></g><g id="n4-08"><circle cx="559" cy="340" r="4.5"/></g><g id="n4-09"><circle cx="522" cy="352" r="3.5"/></g>
<g id="n4-10"><circle cx="587" cy="350" r="3.5"/></g><g id="n4-11"><circle cx="537" cy="366" r="3.5"/></g><g id="n4-12"><circle cx="558" cy="371" r="4"/></g>
<g id="n4-13"><circle cx="580" cy="367" r="4"/></g>
</g>
<g class="k5">
<g id="n5-01"><circle cx="868" cy="45" r="3.5"/></g><g id="n5-02"><circle cx="848" cy="61" r="3.5"/></g><g id="n5-03"><circle cx="887" cy="59" r="3.5"/></g>
<g id="n5-04"><circle cx="835" cy="98" r="3.5"/></g><g id="n5-05"><circle cx="901" cy="96" r="3.5"/></g><g id="n5-06"><circle cx="871" cy="129" r="3.5"/></g>
<g id="n5-07"><circle cx="865" cy="139" r="3.5"/></g><g id="n5-08"><circle cx="833" cy="148" r="3.5"/></g><g id="n5-09"><circle cx="904" cy="145" r="3.5"/></g>
<g id="n5-10"><circle cx="842" cy="193" r="3.5"/></g><g id="n5-11"><circle cx="896" cy="191" r="3.5"/></g><g id="n5-12"><circle cx="859" cy="219" r="3.5"/></g>
<g id="n5-13"><circle cx="879" cy="218" r="3.5"/></g>
</g>
<g class="k6">
<g id="n6-01"><circle cx="716" cy="264" r="3.5"/></g><g id="n6-02"><circle cx="764" cy="286" r="3.5"/></g><g id="n6-03"><circle cx="732" cy="303" r="4"/></g>
<g id="n6-04"><circle cx="677" cy="304" r="3.5"/></g><g id="n6-05"><circle cx="712" cy="308" r="3.5"/></g><g id="n6-06"><circle cx="706" cy="330" r="3.5"/></g>
<g id="n6-07"><circle cx="773" cy="347" r="3.5"/></g><g id="n6-08"><circle cx="718" cy="348" r="3.5"/></g><g id="n6-09"><circle cx="686" cy="367" r="3.5"/></g>
<g id="n6-10"><circle cx="734" cy="388" r="3.5"/></g>
</g>
<g class="k7">
<g id="n7-01"><circle cx="570" cy="465" r="3.5"/></g><g id="n7-02"><circle cx="575" cy="417" r="3.5"/></g><g id="n7-03"><circle cx="541" cy="424" r="3.5"/></g>
<g id="n7-04"><circle cx="608" cy="428" r="3.5"/></g><g id="n7-05"><circle cx="514" cy="442" r="3.5"/></g><g id="n7-06"><circle cx="631" cy="448" r="3.5"/></g>
<g id="n7-07"><circle cx="507" cy="468" r="3.5"/></g><g id="n7-08"><circle cx="632" cy="475" r="3.5"/></g><g id="n7-09"><circle cx="519" cy="493" r="3.5"/></g>
<g id="n7-10"><circle cx="616" cy="499" r="3.5"/></g><g id="n7-11"><circle cx="548" cy="509" r="3.5"/></g><g id="n7-12"><circle cx="584" cy="511" r="3.5"/></g>
</g>
<g class="k8">
<g id="n8-01"><circle cx="709" cy="438" r="3.5"/></g><g id="n8-02"><circle cx="760" cy="434" r="3.5"/></g><g id="n8-03"><circle cx="802" cy="453" r="3.5"/></g>
<g id="n8-04"><circle cx="677" cy="462" r="3.5"/></g><g id="n8-05"><circle cx="730" cy="470" r="3.5"/></g><g id="n8-06"><circle cx="753" cy="467" r="3.5"/></g>
<g id="n8-07"><circle cx="746" cy="481" r="3.5"/></g><g id="n8-08"><circle cx="808" cy="483" r="3.5"/></g><g id="n8-09"><circle cx="684" cy="493" r="3.5"/></g>
<g id="n8-10"><circle cx="777" cy="507" r="3.5"/></g><g id="n8-11"><circle cx="725" cy="511" r="3.5"/></g>
</g>
<g class="k9">
<g id="n9-01"><circle cx="854" cy="264" r="3.5"/></g><g id="n9-02"><circle cx="876" cy="274" r="3.5"/></g><g id="n9-03"><circle cx="848" cy="303" r="3.5"/></g>
<g id="n9-04"><circle cx="904" cy="299" r="3.5"/></g><g id="n9-05"><circle cx="872" cy="309" r="3.5"/></g><g id="n9-06"><circle cx="818" cy="339" r="3.5"/></g>
<g id="n9-07"><circle cx="869" cy="339" r="3.5"/></g><g id="n9-08"><circle cx="852" cy="343" r="4"/></g><g id="n9-09"><circle cx="886" cy="344" r="3.5"/></g>
<g id="n9-10"><circle cx="833" cy="375" r="4"/></g>
</g>
<g class="k10">
<g id="n10-01"><circle cx="870" cy="434" r="3.5"/></g><g id="n10-02"><circle cx="892" cy="441" r="3.5"/></g><g id="n10-03"><circle cx="878" cy="476" r="4"/></g>
<g id="n10-04"><circle cx="904" cy="477" r="4"/></g><g id="n10-05"><circle cx="854" cy="497" r="3.5"/></g><g id="n10-06"><circle cx="895" cy="511" r="4"/></g>
</g>
</g>
</svg>
